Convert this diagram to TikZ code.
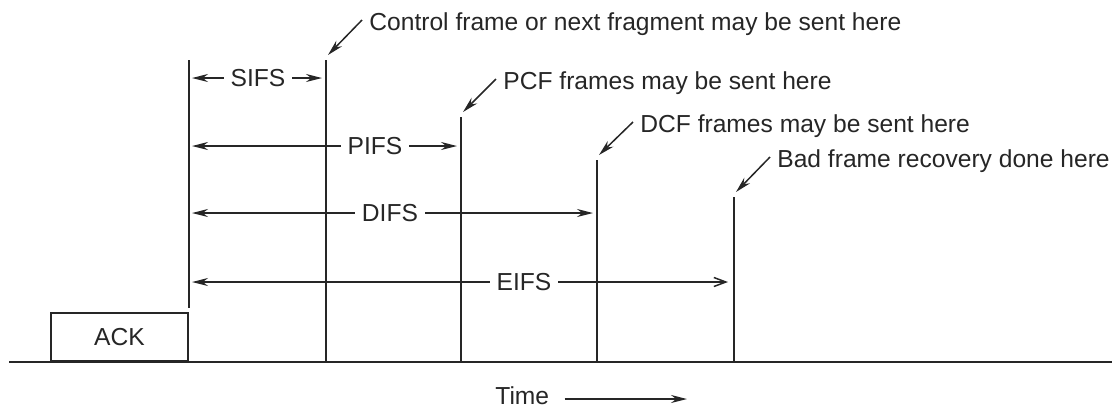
\documentclass[tikz,border=0pt]{standalone}
\usepackage{fontspec}
\setmainfont{Liberation Sans}
\usetikzlibrary{arrows.meta}

\begin{document}
\begin{tikzpicture}[x=0.5pt, y=-0.5pt, >={Stealth[length=8pt, width=4pt]},
    every node/.style={font=\fontsize{12.3}{14}\selectfont, text=black!85},
    bar/.style={draw=black!85, line width=1.2pt},
    span/.style={draw=black!85, line width=0.75pt},
    note/.style={anchor=base west, inner sep=0pt}]
    \useasboundingbox (0,0) rectangle (1120,409);

    % time axis with the ACK frame sitting on it
    \draw[black!85, line width=1pt] (9,362) -- (1112,362);
    \node[draw=black!85, line width=1pt, minimum width=68.5pt, minimum height=23.75pt,
          inner sep=0pt, anchor=south east] (ack) at (189,361.5) {ACK};

    \coordinate (t1) at (189,60);
    \coordinate (t2) at (326,60);
    \coordinate (t3) at (461,117);
    \coordinate (t4) at (597,160);
    \coordinate (t5) at (734,197);
    \draw[bar] (t1) -- (189,308);
    \foreach \t in {t2,t3,t4,t5}
        \draw[bar] (\t) -- (\t |- ack.south);

    \node (sifs) at (258,78) {SIFS};
    \node (pifs) at (375,146) {PIFS};
    \node (difs) at (390,213) {DIFS};
    \node (eifs) at (524,282) {EIFS};
    \foreach \n/\r in {sifs/t2, pifs/t3, difs/t4} {
        \draw[span, ->, shorten >=1.5pt] (\n.west) -- (\n.west -| t1);
        \draw[span, ->, shorten >=2pt] (\n.east) -- (\n.east -| \r);
    }
    \draw[span, ->, shorten >=1.5pt] (eifs.west) -- (eifs.west -| t1);
    \draw[span, -{Straight Barb[length=6pt, width=4.5pt]}, shorten >=3pt] (eifs.east) -- (eifs.east -| t5);

    \node[note] (ctl) at (369,30) {Control frame or next fragment may be sent here};
    \node[note] (pcf) at (503,89) {PCF frames may be sent here};
    \node[note] (dcf) at (640,132) {DCF frames may be sent here};
    \node[note] (bad) at (777,167) {Bad frame recovery done here};
    \foreach \n/\t in {ctl/t2, pcf/t3, dcf/t4, bad/t5}
        \draw[span, ->] ([shift={(-7,-10)}]\n.base west) -- ([shift={(2,-5)}]\t);

    \node[note] (time) at (495,404) {Time};
    \coordinate (tend) at (687,399);
    \draw[span, ->] (time.east |- tend) ++(15,0) -- (tend);
\end{tikzpicture}
\end{document}
